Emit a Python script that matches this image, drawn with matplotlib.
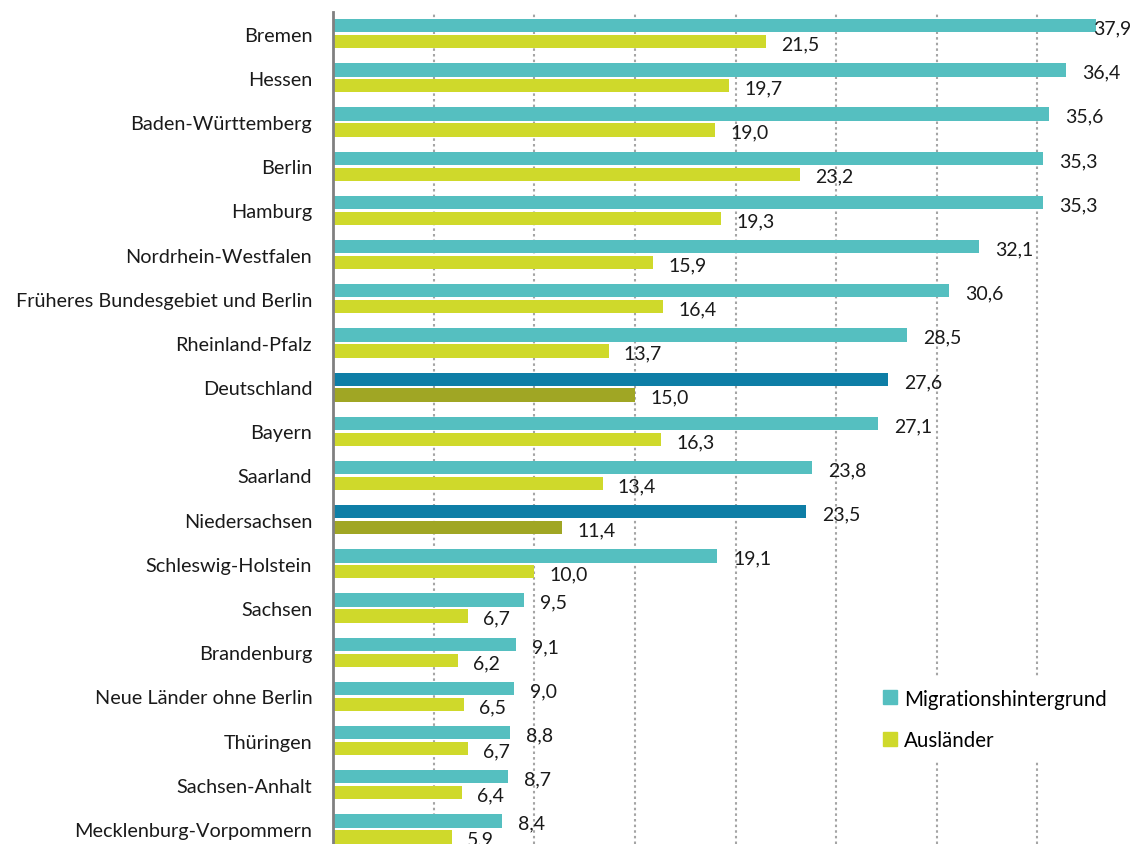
import matplotlib.pyplot as plt
import numpy as np
from matplotlib.patches import Patch

plt.rcParams['font.family'] = ['Lato', 'DejaVu Sans']

regions = [
    'Bremen', 'Hessen', 'Baden-Württemberg', 'Berlin', 'Hamburg',
    'Nordrhein-Westfalen', 'Früheres Bundesgebiet und Berlin', 'Rheinland-Pfalz',
    'Deutschland', 'Bayern', 'Saarland', 'Niedersachsen', 'Schleswig-Holstein',
    'Sachsen', 'Brandenburg', 'Neue Länder ohne Berlin', 'Thüringen',
    'Sachsen-Anhalt', 'Mecklenburg-Vorpommern',
]
migration = [37.9, 36.4, 35.6, 35.3, 35.3, 32.1, 30.6, 28.5, 27.6, 27.1,
             23.8, 23.5, 19.1, 9.5, 9.1, 9.0, 8.8, 8.7, 8.4]
auslaender = [21.5, 19.7, 19.0, 23.2, 19.3, 15.9, 16.4, 13.7, 15.0, 16.3,
              13.4, 11.4, 10.0, 6.7, 6.2, 6.5, 6.7, 6.4, 5.9]
highlight = ['Deutschland', 'Niedersachsen']

TEAL, TEAL_DARK = '#55bfc0', '#0e7ea6'
YELLOW, OLIVE = '#cfd92b', '#a0a624'

fig = plt.figure(figsize=(11.3, 8.45), dpi=100)
ax = fig.add_axes([333 / 1130, 0, 1 - 333 / 1130, 832 / 845])

y = np.arange(len(regions))
h = 0.30
off = 0.18
c1 = [TEAL_DARK if r in highlight else TEAL for r in regions]
c2 = [OLIVE if r in highlight else YELLOW for r in regions]
ax.barh(y - off, migration, height=h, color=c1, zorder=2)
ax.barh(y + off, auslaender, height=h, color=c2, zorder=2)

xmax = 39.6
# value labels, comma as decimal separator
for yi, v in zip(y, migration):
    ax.text(min(v + 0.8, 37.75), yi - off + 0.05, f'{v:.1f}'.replace('.', ','),
            va='center', ha='left', fontsize=14, color='#1a1a1a', zorder=3)
for yi, v in zip(y, auslaender):
    ax.text(v + 0.75, yi + off + 0.05, f'{v:.1f}'.replace('.', ','),
            va='center', ha='left', fontsize=14, color='#1a1a1a', zorder=3)

ax.set_xlim(0, xmax)
ax.set_ylim(18.34, -0.49)
ax.set_yticks(y)
ax.set_yticklabels(regions, fontsize=14.3, color='#1a1a1a')
ax.set_xticks(np.arange(5, 40, 5))
ax.tick_params(axis='y', length=0, pad=15)
ax.tick_params(axis='x', length=0, labelbottom=False)
ax.grid(axis='x', linestyle=(0, (1.2, 1.5)), color='#a5a5a5', linewidth=1.5, zorder=0)
for s in ['top', 'right', 'bottom']:
    ax.spines[s].set_visible(False)
ax.spines['left'].set_color('#808080')
ax.spines['left'].set_linewidth(2)
ax.spines['left'].set_zorder(4)

handles = [Patch(color=TEAL, label='Migrationshintergrund'),
           Patch(color=YELLOW, label='Ausländer')]
leg = ax.legend(handles=handles, loc='upper left', bbox_to_anchor=(0.662, 0.214),
                frameon=True, fontsize=14.8, handlelength=0.65, handleheight=0.65,
                handletextpad=0.35, labelspacing=1.05, borderpad=0.6)
leg.get_frame().set_edgecolor('none')
leg.get_frame().set_facecolor('white')
leg.get_frame().set_alpha(1)
leg.set_zorder(5)

fig.savefig('out.png', dpi=100)
